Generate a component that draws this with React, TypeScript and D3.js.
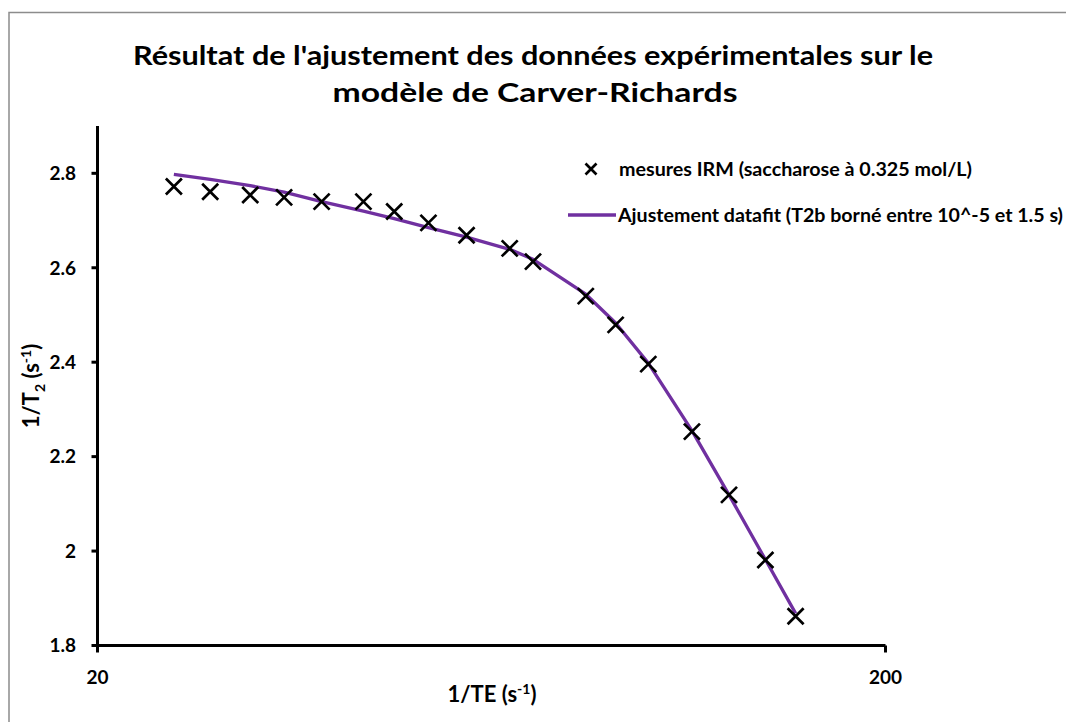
import React from "react";
import * as d3 from "d3";

const invTE = [25, 27.8, 31.25, 34.5, 38.5, 43.5, 47.6, 52.6, 58.8, 66.7, 71.4, 83.3, 90.9, 100, 113.6, 126.6, 140.8, 153.8];
const measured = [2.772, 2.761, 2.754, 2.749, 2.740, 2.740, 2.719, 2.695, 2.669, 2.641, 2.613, 2.540, 2.479, 2.396, 2.253, 2.119, 1.981, 1.862];
const fitted = [2.798, 2.787, 2.774, 2.760, 2.740, 2.720, 2.704, 2.685, 2.665, 2.639, 2.618, 2.544, 2.483, 2.398, 2.255, 2.119, 1.982, 1.868];
const yTicks = [1.8, 2, 2.2, 2.4, 2.6, 2.8];
const xTicks = [20, 200];
const titleLines = ["Résultat de l'ajustement des données expérimentales sur le", "modèle de Carver-Richards"];
const legendMeasured = "mesures IRM (saccharose à 0.325 mol/L)";
const legendFit = "Ajustement datafit (T2b borné entre 10^-5 et 1.5 s)";

const FONT = "Lato, 'Open Sans', sans-serif";
const PURPLE = "#7030A0";

export default function App() {
  const x = d3.scaleLog().domain([20, 200]).range([97.5, 885.5]);
  const y = d3.scaleLinear().domain([1.8, 2.9]).range([645.5, 126.1]);
  const line = d3
    .line<number>()
    .x((_, i) => x(invTE[i]))
    .y((d) => y(d));
  const cross = (cx: number, cy: number, r: number) =>
    `M${cx - r},${cy - r}L${cx + r},${cy + r}M${cx - r},${cy + r}L${cx + r},${cy - r}`;

  return (
    <svg
      width={1066}
      height={722}
      style={{ position: "absolute", left: 0, top: 0, background: "#fff" }}
      fontFamily={FONT}
    >
      <rect x={9} y={12.5} width={1070} height={720} fill="#fff" stroke="#8c8c8c" strokeWidth={1.5} />
      <text x={533} y={65} textAnchor="middle" fontSize={27} fontWeight={700} textLength={800} lengthAdjust="spacingAndGlyphs">
        {titleLines[0]}
      </text>
      <text x={535} y={102} textAnchor="middle" fontSize={27} fontWeight={700} textLength={405} lengthAdjust="spacingAndGlyphs">
        {titleLines[1]}
      </text>
      {/* axes */}
      <line x1={x(20)} x2={x(20)} y1={y(2.9)} y2={y(1.8) + 1.5} stroke="#000" strokeWidth={3} />
      <line x1={x(20) - 1.5} x2={x(200)} y1={y(1.8)} y2={y(1.8)} stroke="#000" strokeWidth={3} />
      {yTicks.map((t) => (
        <g key={t}>
          <line x1={x(20) - 6} x2={x(20)} y1={y(t)} y2={y(t)} stroke="#000" strokeWidth={3} />
          <text x={76} y={y(t)} dy="0.36em" textAnchor="end" fontSize={19} fontWeight={700}>
            {d3.format("")(t)}
          </text>
        </g>
      ))}
      {xTicks.map((t) => (
        <g key={t}>
          <line x1={x(t)} x2={x(t)} y1={y(1.8)} y2={y(1.8) + 7} stroke="#000" strokeWidth={3} />
          <text x={x(t)} y={677} dy="0.36em" textAnchor="middle" fontSize={19} fontWeight={700}>
            {t}
          </text>
        </g>
      ))}
      <text x={492} y={694} dy="0.35em" textAnchor="middle" fontSize={22} fontWeight={700}>
        1/TE (s<tspan dy="-8" fontSize={14}>-1</tspan><tspan dy="8">)</tspan>
      </text>
      <text transform="translate(31,386) rotate(-90)" dy="0.35em" textAnchor="middle" fontSize={22} fontWeight={700}>
        1/T<tspan dy="6" fontSize={14}>2</tspan><tspan dy="-6"> (s</tspan><tspan dy="-8" fontSize={14}>-1</tspan><tspan dy="8">)</tspan>
      </text>
      {/* fit line */}
      <path d={line(fitted) || ""} fill="none" stroke={PURPLE} strokeWidth={3.3} strokeLinejoin="round" />
      {/* points */}
      {measured.map((v, i) => (
        <path key={i} d={cross(x(invTE[i]), y(v), 8)} stroke="#000" strokeWidth={2.7} fill="none" />
      ))}
      {/* legend */}
      <path d={cross(591, 169, 5.5)} stroke="#000" strokeWidth={2.7} fill="none" />
      <text x={619} y={169} dy="0.36em" fontSize={19} fontWeight={700} textLength={353} lengthAdjust="spacingAndGlyphs">
        {legendMeasured}
      </text>
      <line x1={568} x2={616} y1={215} y2={215} stroke={PURPLE} strokeWidth={3.3} />
      <text x={618} y={215} dy="0.36em" fontSize={19} fontWeight={700} textLength={445} lengthAdjust="spacingAndGlyphs">
        {legendFit}
      </text>
    </svg>
  );
}
